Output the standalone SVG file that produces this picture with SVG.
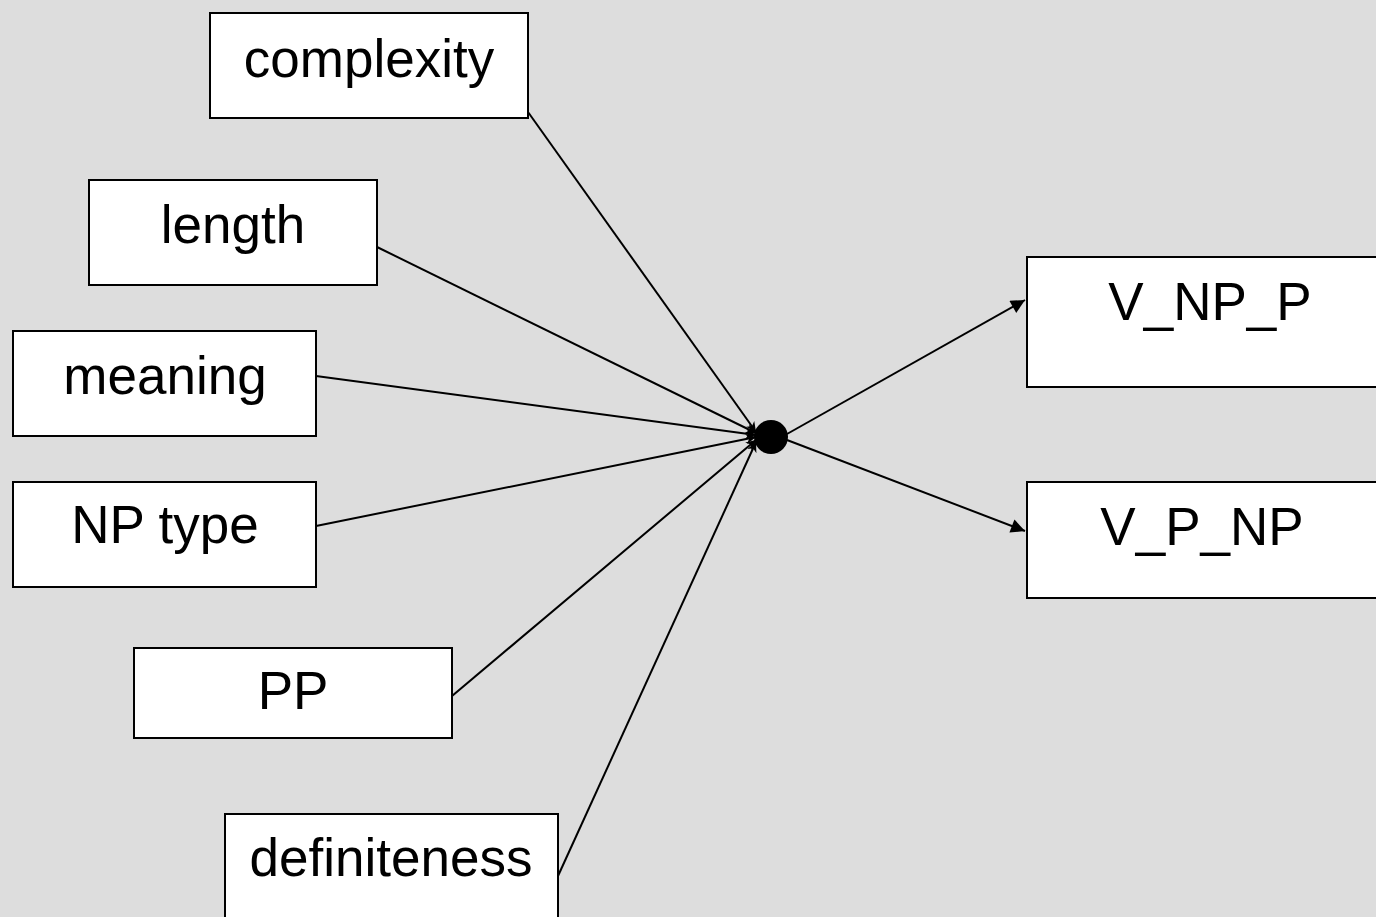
<svg xmlns="http://www.w3.org/2000/svg" width="1376" height="917" viewBox="0 0 1376 917">
<style>
.box{fill:#fff;stroke:#000;stroke-width:2}
.lbl{font-family:"Liberation Sans",Arial,sans-serif;font-size:53px;fill:#000;text-anchor:middle}
.edge{stroke:#000;stroke-width:2;fill:none}
</style>
<defs>
<marker id="ah" viewBox="0 0 10 10" refX="10" refY="5" markerWidth="13" markerHeight="10" markerUnits="userSpaceOnUse" orient="auto">
<path d="M0,0 L10,5 L0,10 L3,5 Z" fill="#000"/>
</marker>
<marker id="ah2" viewBox="0 0 10 10" refX="10" refY="5" markerWidth="18" markerHeight="14" markerUnits="userSpaceOnUse" orient="auto">
<path d="M0,0 L10,5 L0,10 Z" fill="#000"/>
</marker>
</defs>
<rect width="1376" height="917" fill="#DDDDDD"/>
<g id="connectors">
<line class="edge" x1="528" y1="112" x2="756" y2="432" marker-end="url(#ah)"/>
<line class="edge" x1="377" y1="247" x2="756" y2="433" marker-end="url(#ah)"/>
<line class="edge" x1="316" y1="376" x2="756" y2="435" marker-end="url(#ah)"/>
<line class="edge" x1="316" y1="526" x2="756" y2="437" marker-end="url(#ah)"/>
<line class="edge" x1="452" y1="696" x2="756" y2="440" marker-end="url(#ah)"/>
<line class="edge" x1="558" y1="876" x2="756" y2="442" marker-end="url(#ah)"/>
<line class="edge" x1="787" y1="434" x2="1025" y2="300" marker-end="url(#ah2)"/>
<line class="edge" x1="787" y1="440" x2="1025" y2="531" marker-end="url(#ah2)"/>
</g>
<g id="hub"><circle cx="771" cy="437" r="17" fill="#000"/></g>
<g id="complexity"><rect class="box" x="210" y="13" width="318" height="105"/><text class="lbl" x="369" y="77">complexity</text></g>
<g id="length"><rect class="box" x="89" y="180" width="288" height="105"/><text class="lbl" x="233" y="243">length</text></g>
<g id="meaning"><rect class="box" x="13" y="331" width="303" height="105"/><text class="lbl" x="165" y="394">meaning</text></g>
<g id="nptype"><rect class="box" x="13" y="482" width="303" height="105"/><text class="lbl" x="165" y="543">NP type</text></g>
<g id="pp"><rect class="box" x="134" y="648" width="318" height="90"/><text class="lbl" x="293" y="709">PP</text></g>
<g id="definiteness"><rect class="box" x="225" y="814" width="333" height="120"/><text class="lbl" x="391" y="876">definiteness</text></g>
<g id="vnpp"><rect class="box" x="1027" y="257" width="366" height="130"/><text class="lbl" x="1210" y="320">V_NP_P</text></g>
<g id="vpnp"><rect class="box" x="1027" y="482" width="366" height="116"/><text class="lbl" x="1202" y="545">V_P_NP</text></g>
</svg>
